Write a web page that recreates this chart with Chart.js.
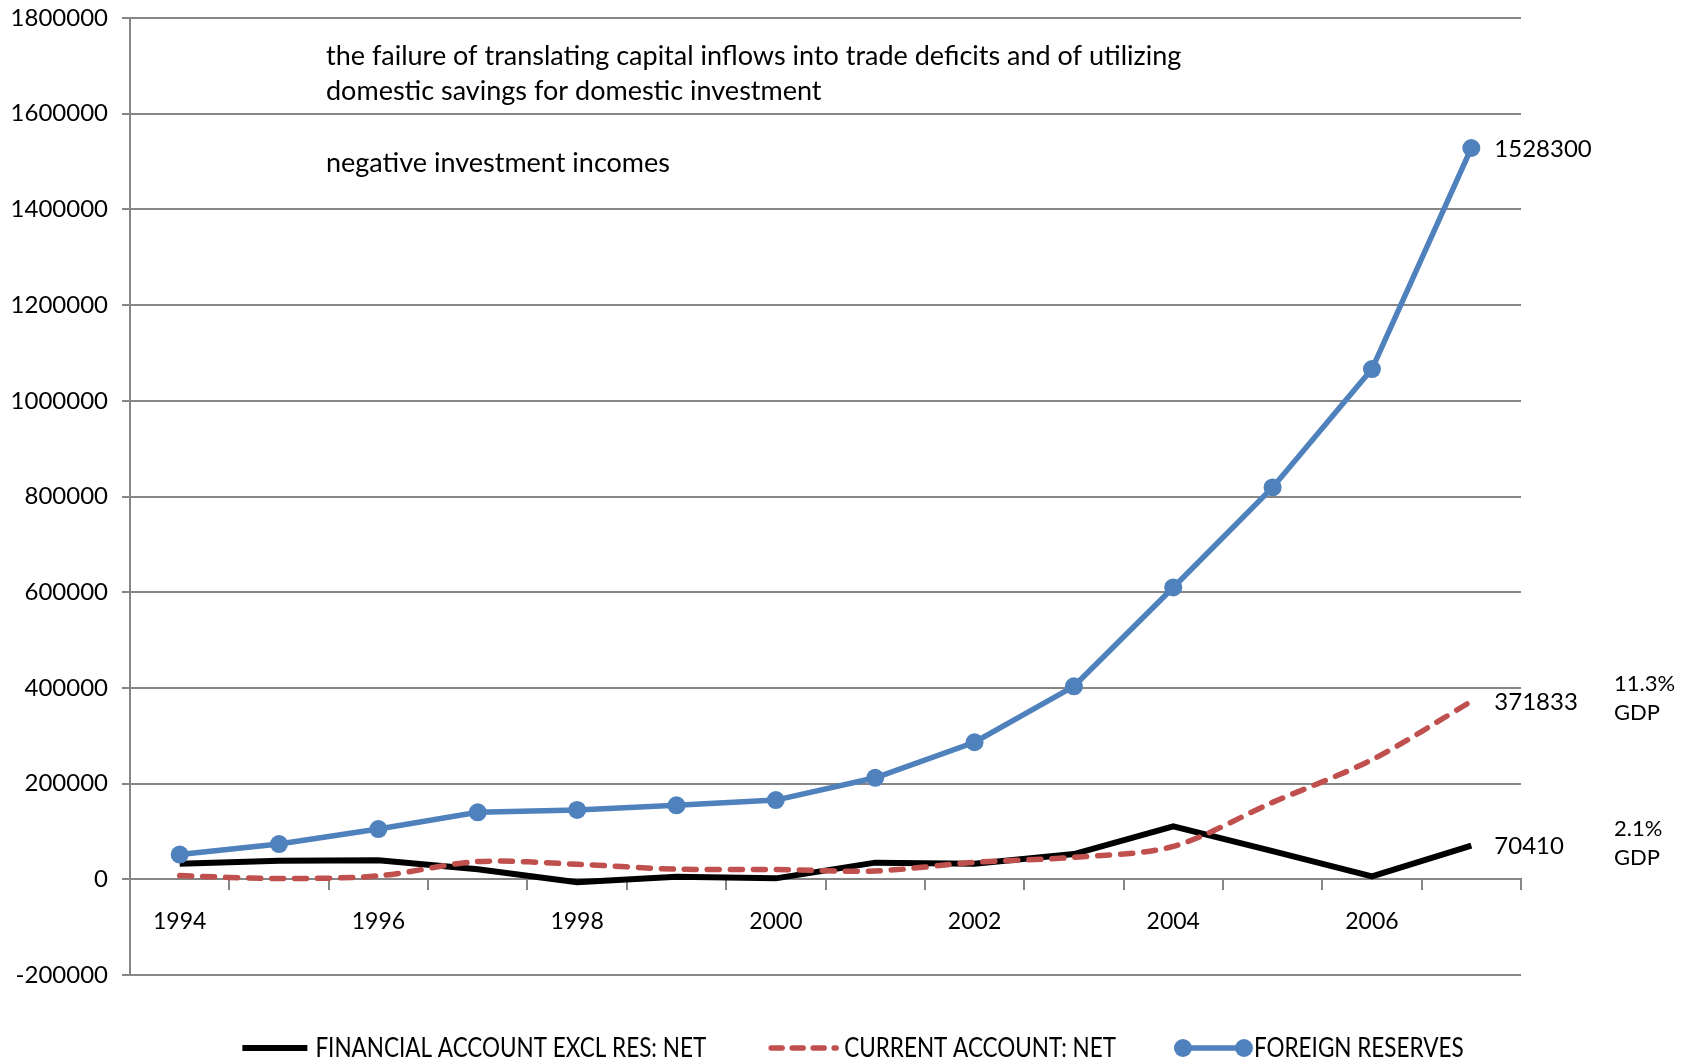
<!DOCTYPE html>
<html>
<head>
<meta charset="utf-8">
<title>China: reserves, current and financial account</title>
<script src="https://cdn.jsdelivr.net/npm/chart.js@4/dist/chart.umd.min.js"></script>
<style>
  html, body { margin: 0; padding: 0; background: #ffffff; }
  #wrap { width: 1691px; height: 1061px; }
</style>
</head>
<body>
<div id="wrap"><canvas id="chart" width="1691" height="1061"></canvas></div>
<script>
// Years on the category axis
const years = ['1994', '1995', '1996', '1997', '1998', '1999', '2000',
               '2001', '2002', '2003', '2004', '2005', '2006', '2007'];

// Series values (USD million)
const financialAccount = [32600, 38700, 40000, 21000, -6300, 5200, 2000,
                          34800, 32300, 52800, 110700, 58900, 6000, 70410];
const currentAccount   = [7700, 1600, 7200, 37000, 31500, 21100, 20500,
                          17400, 35400, 45900, 68700, 160800, 249900, 371833];
const foreignReserves  = [51600, 73600, 105000, 139900, 145000, 154700, 165600,
                          212200, 286400, 403300, 609900, 818900, 1066300, 1528300];

const seriesNames = ['FINANCIAL ACCOUNT EXCL RES: NET', 'CURRENT ACCOUNT: NET', 'FOREIGN RESERVES'];

// Value axis range and step
const yMin = -200000;
const yMax = 1800000;
const yStep = 200000;

// Share-of-GDP notes for the last year (current account, financial account)
const gdpNotes = [['11.3%', 'GDP'], ['2.1%', 'GDP']];

// Text notes in the plot area
const noteLines = [
  'the failure of translating capital inflows into trade deficits and of utilizing',
  'domestic savings for domestic investment',
  'negative investment incomes'
];

const FONT = 'Lato, "Open Sans", "Liberation Sans", sans-serif';
const GRID = '#868686';
const BLUE = '#4F81BD';
const RED = '#C0504D';
const BLACK = '#000000';

// End-of-line value labels, GDP notes, free text and the legend
const annotate = {
  id: 'annotate',
  afterDatasetsDraw(chart) {
    const ctx = chart.ctx;
    const area = chart.chartArea;
    ctx.save();
    ctx.fillStyle = '#000';
    ctx.textAlign = 'left';
    ctx.textBaseline = 'middle';

    // last value of each series next to its final point
    ctx.font = '24px ' + FONT;
    const lastPts = [];
    chart.data.datasets.forEach((ds, i) => {
      const meta = chart.getDatasetMeta(i);
      const el = meta.data[meta.data.length - 1];
      const v = ds.data[ds.data.length - 1];
      ctx.fillText(String(v), el.x + 23, el.y + 1);
      lastPts.push(el);
    });

    // GDP shares beside the current and financial account labels
    ctx.font = '22px ' + FONT;
    const gx = area.right + 93;
    [[lastPts[1], gdpNotes[0]], [lastPts[0], gdpNotes[1]]].forEach(([el, lines]) => {
      ctx.fillText(lines[0], gx, el.y - 17);
      ctx.fillText(lines[1], gx, el.y + 12);
    });

    // notes in the upper-left of the plot
    ctx.font = '27px ' + FONT;
    const nx = area.left + 196;
    ctx.fillText(noteLines[0], nx, area.top + 38);
    ctx.fillText(noteLines[1], nx, area.top + 73);
    ctx.fillText(noteLines[2], nx, area.top + 145);
    ctx.restore();
  },
  afterDraw(chart) {
    // legend row along the bottom edge
    const ctx = chart.ctx;
    const y = 1048;
    const sampleW = 71;
    const textGap = 5;
    const itemGap = 62;
    const squeeze = 0.865;
    ctx.save();
    ctx.font = '26px ' + FONT;
    const widths = seriesNames.map(t => ctx.measureText(t).width * squeeze);
    const total = widths.reduce((a, b) => a + b, 0) + 3 * (sampleW + textGap) + 2 * itemGap;
    let x = chart.width / 2 + 6 - total / 2;
    chart.data.datasets.forEach((ds, i) => {
      ctx.save();
      ctx.strokeStyle = ds.borderColor;
      ctx.lineWidth = ds.borderWidth;
      ctx.lineCap = ds.borderDash && ds.borderDash.length ? 'round' : 'butt';
      ctx.setLineDash(ds.borderDash ? [11, 10] : []);
      ctx.beginPath();
      ctx.moveTo(x + 3, y);
      ctx.lineTo(x + sampleW - 3, y);
      ctx.stroke();
      if (ds.pointRadius > 0) {
        ctx.fillStyle = ds.pointBackgroundColor;
        [x + 5, x + sampleW - 5].forEach(cx => {
          ctx.beginPath();
          ctx.arc(cx, y, ds.pointRadius, 0, Math.PI * 2);
          ctx.fill();
        });
      }
      ctx.restore();
      x += sampleW + textGap;
      ctx.save();
      ctx.translate(x, y);
      ctx.scale(squeeze, 1);
      ctx.fillStyle = '#000';
      ctx.textAlign = 'left';
      ctx.textBaseline = 'middle';
      ctx.fillText(seriesNames[i], 0, 1);
      ctx.restore();
      x += widths[i] + itemGap;
    });
    ctx.restore();
  }
};

new Chart(document.getElementById('chart'), {
  type: 'line',
  data: {
    labels: years,
    datasets: [
      {
        label: seriesNames[0],
        data: financialAccount,
        borderColor: BLACK,
        backgroundColor: BLACK,
        borderWidth: 6,
        pointRadius: 0,
        tension: 0,
        order: 3
      },
      {
        label: seriesNames[1],
        data: currentAccount,
        borderColor: RED,
        backgroundColor: RED,
        borderWidth: 5.5,
        borderDash: [12, 11],
        borderCapStyle: 'round',
        pointRadius: 0,
        tension: 0.3,
        order: 2
      },
      {
        label: seriesNames[2],
        data: foreignReserves,
        borderColor: BLUE,
        backgroundColor: BLUE,
        pointBackgroundColor: BLUE,
        pointBorderWidth: 0,
        borderWidth: 5.5,
        pointRadius: 9,
        tension: 0,
        order: 1
      }
    ]
  },
  options: {
    responsive: false,
    animation: false,
    events: [],
    layout: { padding: { left: 0, top: 18, right: 170, bottom: 86 } },
    plugins: { legend: { display: false }, tooltip: { enabled: false } },
    scales: {
      x: {
        type: 'category',
        offset: true,
        position: { y: 0 },
        grid: {
          display: true, drawOnChartArea: false, drawTicks: true,
          tickLength: 10, color: GRID, lineWidth: 2, offset: true
        },
        border: { display: true, color: GRID, width: 2 },
        ticks: {
          autoSkip: false, maxRotation: 0, minRotation: 0, padding: 18,
          color: '#000', font: { family: FONT, size: 23 },
          callback: (v, i) => (i % 2 === 0 ? years[i] : '')
        }
      },
      y: {
        min: yMin, max: yMax,
        afterFit: s => { s.width = 130; s.paddingTop = 0; s.paddingBottom = 0; },
        grid: { color: GRID, lineWidth: 2, tickLength: 8, drawTicks: true },
        border: { display: true, color: GRID, width: 2 },
        ticks: {
          stepSize: yStep, padding: 14, color: '#000',
          font: { family: FONT, size: 24 },
          callback: v => String(v)
        }
      }
    }
  },
  plugins: [annotate]
});
</script>
</body>
</html>
